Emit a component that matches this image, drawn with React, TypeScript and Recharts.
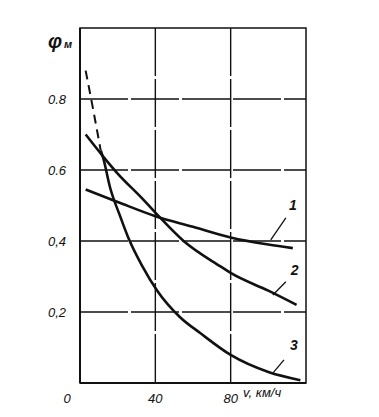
import React from "react";
import {
  LineChart,
  Line,
  XAxis,
  YAxis,
  CartesianGrid,
  ReferenceLine,
  ReferenceArea,
} from "recharts";

// curve 1
const c1X = [3, 20, 40, 60, 80, 100, 113];
const c1Y = [0.545, 0.51, 0.47, 0.44, 0.41, 0.39, 0.38];
// curve 2
const c2X = [3, 12, 20, 33, 40, 55, 75, 80, 100, 115];
const c2Y = [0.7, 0.64, 0.59, 0.52, 0.48, 0.4, 0.327, 0.31, 0.26, 0.22];
// curve 3 (dashed start + solid part)
const c3dX = [3, 7, 11];
const c3dY = [0.88, 0.77, 0.655];
const c3X = [11, 12.3, 16, 21.3, 25.6, 33, 41, 53, 64, 80, 100, 117];
const c3Y = [0.655, 0.634, 0.55, 0.47, 0.41, 0.33, 0.26, 0.186, 0.14, 0.079, 0.031, 0.008];

const xTicks = [0, 40, 80];
const yTicks = [0.2, 0.4, 0.6, 0.8];
const yTickLabels = ["0,2", "0,4", "0.6", "0.8"];

// leader lines for curve numbers: [x1, y1, x2, y2, labelX, labelY, text]
const leaders: [number, number, number, number, number, number, string][] = [
  [101.3, 0.403, 109.3, 0.465, 113, 0.5, "1"],
  [102.4, 0.248, 109.3, 0.285, 114, 0.318, "2"],
  [102.4, 0.028, 108.3, 0.065, 113.6, 0.107, "3"],
];

const toRows = (xs: number[], ys: number[]) => xs.map((x, i) => ({ x, y: ys[i] }));

const font = "'Liberation Sans', Arial, sans-serif";

const XTick = (props: any) => {
  const { x, y, payload } = props;
  const dx = payload.value === 0 ? -13 : 0;
  return (
    <text
      x={x + dx}
      y={y + 12}
      textAnchor="middle"
      fontSize={13}
      fontStyle="italic"
      fontFamily={font}
      fill="#111"
    >
      {payload.value}
    </text>
  );
};

const YTick = (props: any) => {
  const { x, y, payload } = props;
  const idx = yTicks.indexOf(payload.value);
  return (
    <text
      x={x - 6}
      y={y + 5}
      textAnchor="end"
      fontSize={13}
      fontStyle="italic"
      fontFamily={font}
      fill="#111"
    >
      {yTickLabels[idx]}
    </text>
  );
};

export default function App() {
  return (
    <div style={{ position: "absolute", left: 0, top: 0, width: 379, height: 417, background: "#fff" }}>
      <LineChart
        width={379}
        height={417}
        margin={{ top: 28, right: 73, bottom: 0, left: 0 }}
      >
        <CartesianGrid
          stroke="#111"
          strokeWidth={1.4}
          strokeDasharray="48 3"
          horizontalValues={yTicks}
          verticalValues={xTicks}
        />
        <ReferenceArea
          x1={0}
          x2={120}
          y1={0}
          y2={1}
          fill="none"
          stroke="#111"
          strokeWidth={1.5}
          ifOverflow="visible"
        />
        <XAxis
          type="number"
          dataKey="x"
          domain={[0, 120]}
          ticks={xTicks}
          allowDuplicatedCategory={false}
          height={34}
          axisLine={{ stroke: "#111", strokeWidth: 2 }}
          tickLine={false}
          tick={<XTick />}
        />
        <YAxis
          type="number"
          dataKey="y"
          domain={[0, 1]}
          ticks={yTicks}
          width={80}
          axisLine={{ stroke: "#111", strokeWidth: 2 }}
          tickLine={false}
          tick={<YTick />}
        />
        <Line
          data={toRows(c3dX, c3dY)}
          dataKey="y"
          type="monotone"
          stroke="#111"
          strokeWidth={2}
          strokeDasharray="9 6"
          dot={false}
          isAnimationActive={false}
        />
        <Line
          data={toRows(c3X, c3Y)}
          dataKey="y"
          type="monotone"
          stroke="#111"
          strokeWidth={2.6}
          dot={false}
          isAnimationActive={false}
        />
        <Line
          data={toRows(c2X, c2Y)}
          dataKey="y"
          type="monotone"
          stroke="#111"
          strokeWidth={2.6}
          dot={false}
          isAnimationActive={false}
        />
        <Line
          data={toRows(c1X, c1Y)}
          dataKey="y"
          type="monotone"
          stroke="#111"
          strokeWidth={2.6}
          dot={false}
          isAnimationActive={false}
        />
        {leaders.map(([x1, y1, x2, y2]) => (
          <ReferenceLine
            key={`l${x1}-${y1}`}
            segment={[
              { x: x1, y: y1 },
              { x: x2, y: y2 },
            ]}
            stroke="#111"
            strokeWidth={1.3}
            ifOverflow="visible"
          />
        ))}
        {leaders.map(([, , , , lx, ly, t]) => (
          <ReferenceLine
            key={`t${t}`}
            segment={[
              { x: lx, y: ly },
              { x: lx, y: ly },
            ]}
            stroke="none"
            ifOverflow="visible"
            label={{
              value: t,
              position: "center",
              fontSize: 14,
              fontStyle: "italic",
              fontWeight: "bold",
              fontFamily: font,
              fill: "#111",
            }}
          />
        ))}
      </LineChart>
      <div
        style={{
          position: "absolute",
          left: 48,
          top: 30,
          fontFamily: font,
          fontStyle: "italic",
          fontWeight: "bold",
          color: "#111",
          whiteSpace: "nowrap",
        }}
      >
        <span style={{ fontSize: 20 }}>φ</span>
        <span style={{ fontSize: 11, marginLeft: 2 }}>м</span>
      </div>
      <div
        style={{
          position: "absolute",
          left: 243,
          top: 385,
          fontFamily: font,
          fontStyle: "italic",
          fontSize: 13,
          color: "#111",
          whiteSpace: "nowrap",
        }}
      >
        v, км/ч
      </div>
    </div>
  );
}
